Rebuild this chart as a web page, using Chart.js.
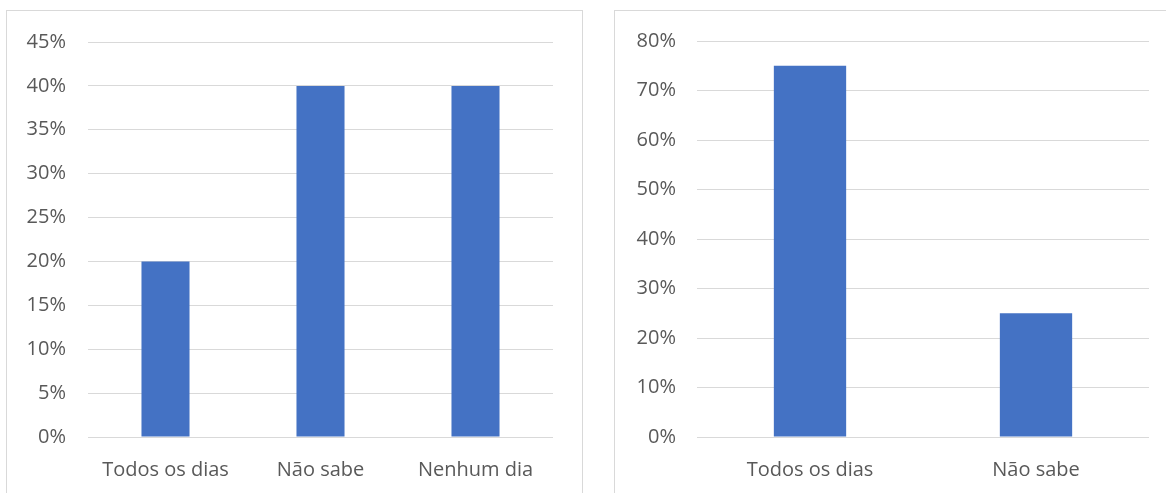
<!DOCTYPE html>
<html>
<head>
<meta charset="utf-8">
<script src="https://cdn.jsdelivr.net/npm/chart.js@4/dist/chart.umd.min.js"></script>
<style>
  html, body { margin: 0; padding: 0; background: #fff; width: 1166px; height: 493px; overflow: hidden; }
  .panel { position: absolute; top: 10px; height: 500px; border: 1px solid #d9d9d9; box-sizing: border-box; }
  #p1 { left: 6px; width: 577px; }
  #p2 { left: 614px; width: 560px; }
  .panel canvas { display: block; margin-top: -3px; }
</style>
</head>
<body>
<div class="panel" id="p1"><canvas id="c1"></canvas></div>
<div class="panel" id="p2"><canvas id="c2"></canvas></div>
<script>
// ---- data ----
const leftLabels = ["Todos os dias", "Não sabe", "Nenhum dia"];
const leftValues = [20, 40, 40];
const leftMax = 45, leftStep = 5;

const rightLabels = ["Todos os dias", "Não sabe"];
const rightValues = [75, 25];
const rightMax = 80, rightStep = 10;

const BAR = "#4472C4", GRID = "#d9d9d9", TEXT = "#595959";
const FONT = { family: "'Open Sans', sans-serif", size: 20 };

function make(id, labels, values, max, step, opts) {
  const cv = document.getElementById(id);
  const host = cv.parentElement;
  cv.width = host.clientWidth; cv.height = 485;
  cv.style.width = cv.width + "px"; cv.style.height = "485px";
  return new Chart(cv, {
    type: "bar",
    data: { labels, datasets: [{ data: values, backgroundColor: BAR, categoryPercentage: 1, barPercentage: opts.bar }] },
    options: {
      responsive: false, animation: false,
      layout: { padding: { top: 24, right: opts.right, left: 0, bottom: 0 } },
      plugins: { legend: { display: false }, tooltip: { enabled: false } },
      scales: {
        x: {
          grid: { display: false }, border: { display: false },
          ticks: { color: TEXT, font: FONT, padding: 13, maxRotation: 0 },
          afterFit: (s) => { s.height = 56; },
        },
        y: {
          min: 0, max,
          grid: { color: GRID, lineWidth: 1, drawTicks: false }, border: { display: false },
          ticks: { stepSize: step, color: TEXT, font: FONT, padding: opts.pad, callback: (v) => v + "%" },
          afterFit: (s) => { s.width = opts.yw; },
        },
      },
    },
  });
}

make("c1", leftLabels, leftValues, leftMax, leftStep, { right: 29, yw: 81, pad: 22, bar: 0.31 });
make("c2", rightLabels, rightValues, rightMax, rightStep, { right: 24, yw: 82, pad: 21, bar: 0.32 });
</script>
</body>
</html>
